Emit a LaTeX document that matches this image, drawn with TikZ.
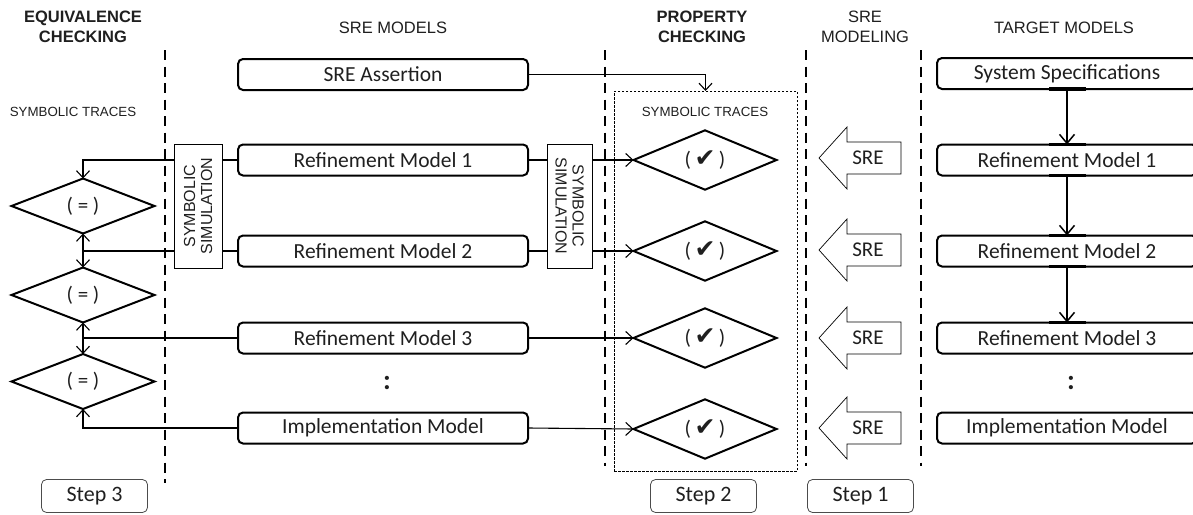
\documentclass[tikz,border=0pt]{standalone}
\usepackage{fontspec}
\setmainfont{Carlito}
\newfontfamily\arialf{Liberation Sans}
\newfontfamily\djv{DejaVu Sans}
\usetikzlibrary{arrows.meta,shapes.geometric}
\begin{document}
\begin{tikzpicture}[x=1pt,y=-1pt,
  model/.style={draw, line width=2pt, rounded corners=5pt, minimum height=31pt, outer sep=0pt, inner sep=0pt, font=\fontsize{21.5}{22}\selectfont, text=black!88},
  simbox/.style={draw, line width=1pt, outer sep=0pt, inner sep=0pt, minimum width=124pt, font=\arialf\fontsize{16}{17}\selectfont, align=center, text=black!88},
  dia/.style={draw, diamond, line width=2pt, minimum width=143pt, minimum height=55pt, inner sep=0pt, outer sep=0pt, font=\fontsize{21}{22}\selectfont, text=black!88},
  head/.style={font=\arialf\fontsize{16.5}{20}\selectfont, align=center, text=black!88},
  bhead/.style={font=\arialf\bfseries\fontsize{16.5}{20}\selectfont, align=center, text=black!88},
  small/.style={font=\arialf\fontsize{13.3}{14}\selectfont, text=black!88},
  stepbox/.style={draw, line width=0.8pt, draw=black!70, rounded corners=5pt, minimum width=106pt, minimum height=33pt, font=\fontsize{22}{22}\selectfont, text=black!88},
  divider/.style={line width=2.6pt, dash pattern=on 10pt off 6.5pt},
  conn/.style={line width=1.1pt},
  arr/.style={conn, -{Straight Barb[length=7pt,width=13pt]}},
  darr/.style={conn, {Straight Barb[length=7pt,width=13pt]}-{Straight Barb[length=7pt,width=13pt]}},
  tarr/.style={line width=1.8pt, -{Straight Barb[length=9pt,width=15pt,line width=1.5pt]}},
  bar/.style={line width=3.2pt},
  blockarrow/.style={draw, line width=0.7pt},
  dots/.style={font=\fontsize{28}{28}\selectfont\bfseries, text=black!88},
  chk/.style={}
]
\useasboundingbox (0,0) rectangle (1193,514);

% headings
\node[bhead] (hEq) at (83,27) {EQUIVALENCE\\CHECKING};
\node[head] (hSM) at (393,28) {SRE MODELS};
\node[bhead] (hPC) at (702,27) {PROPERTY\\CHECKING};
\node[head] (hMod) at (865,27) {SRE\\MODELING};
\node[head] (hTM) at (1064,28) {TARGET MODELS};

% dividers
\draw[divider] (165,50) -- (165,483);
\draw[divider] (605,50) -- (605,466);
\draw[divider] (806,50) -- (806,466);
\draw[divider] (921,50) -- (921,466);

% symbolic traces labels
\node[small] (stL) at (73,112) {SYMBOLIC TRACES};
\node[draw, line width=0.8pt, dash pattern=on 2.5pt off 1.5pt, minimum width=183pt, minimum height=380pt, inner sep=0pt, outer sep=0pt] (tb) at (705.5,281) {};
\node[small] (stR) at (705,112) {SYMBOLIC TRACES};

% SRE models
\node[model, minimum width=290pt] (sa) at (383,74.5) {SRE Assertion};
\node[model, minimum width=290pt] (r1) at (383,160) {Refinement Model 1};
\node[model, minimum width=290pt] (r2) at (383,251) {Refinement Model 2};
\node[model, minimum width=290pt] (r3) at (383,338) {Refinement Model 3};
\node[model, minimum width=290pt] (im) at (383,428) {Implementation Model};
\node[dots] (dM) at (387,383) {:};

% symbolic simulation boxes (rotate=90: north is left; rotate=-90: north is right)
\node[simbox, minimum height=48pt, rotate=90] (symL) at (198,206) {SYMBOLIC\\SIMULATION};
\node[simbox, minimum height=45pt, rotate=-90] (symR) at (569.5,206) {SYMBOLIC\\SIMULATION};

% equivalence diamonds
\node[dia] (d1) at (83,206) {( = )};
\node[dia] (d2) at (83,295) {( = )};
\node[dia] (d3) at (83,381.5) {( = )};

% property diamonds
\node[dia] (c1) at (705,160) {(\,{\djv\fontsize{25}{22}\selectfont ✔}\,)};
\node[dia] (c2) at (705,251) {(\,{\djv\fontsize{25}{22}\selectfont ✔}\,)};
\node[dia] (c3) at (705,338) {(\,{\djv\fontsize{25}{22}\selectfont ✔}\,)};
\node[dia] (c4) at (705,429) {(\,{\djv\fontsize{25}{22}\selectfont ✔}\,)};

% target models
\node[model, minimum width=260pt] (t0) at (1067,73.5) {System Specifications};
\node[model, minimum width=260pt] (t1) at (1067,160) {Refinement Model 1};
\node[model, minimum width=260pt] (t2) at (1067,251) {Refinement Model 2};
\node[model, minimum width=260pt] (t3) at (1067,338) {Refinement Model 3};
\node[model, minimum width=260pt] (ti) at (1067,428) {Implementation Model};
\node[dots] (dT) at (1071,383) {:};

% SRE block arrows
\foreach \c/\n in {158/s1,250/s2,338/s3,428/s4}{
  \draw[blockarrow] (819,\c) -- (847,\c-31) -- (847,\c-16) -- (901,\c-16) -- (901,\c+16) -- (847,\c+16) -- (847,\c+31) -- cycle;
  \node[font=\fontsize{21}{22}\selectfont, text=black!88] (\n) at (868,\c) {SRE};
}

% steps
\node[stepbox] (st3) at (94.5,496) {Step 3};
\node[stepbox] (st2) at (703.5,496) {Step 2};
\node[stepbox] (st1) at (860.5,496) {Step 1};

% left connectors
\draw[conn] (r1.west) -- (symL.south |- r1.west);
\draw[arr] (symL.north |- r1.west) -| (d1.north);
\draw[conn] (r2.west) -- (symL.south |- r2.west);
\draw[conn] (symL.north |- r2.west) -- (d1.south |- r2.west);
\draw[darr] (d1.south) -- (d2.north);
\draw[conn] (r3.west) -- (d2.south |- r3.west);
\draw[darr] (d2.south) -- (d3.north);
\draw[arr] (im.west) -| (d3.south);

% right connectors
\draw[conn] (r1.east) -- (symR.south |- r1.east);
\draw[arr] (symR.north |- r1.east) -- (c1.west);
\draw[conn] (r2.east) -- (symR.south |- r2.east);
\draw[arr] (symR.north |- r2.east) -- (c2.west);
\draw[arr] (r3.east) -- (c3.west);
\draw[arr] (im.east) -- (c4.west);
\draw[arr] (sa.east) -| (tb.north);

% target arrows
\foreach \a/\b in {t0/t1,t1/t2,t2/t3}{
  \draw[tarr] (\a.south) -- (\b.north);
  \draw[bar] ([xshift=-18pt]\a.south) -- ([xshift=19pt]\a.south);
  \draw[bar] ([xshift=-18pt]\b.north) -- ([xshift=19pt]\b.north);
}
\end{tikzpicture}
\end{document}
